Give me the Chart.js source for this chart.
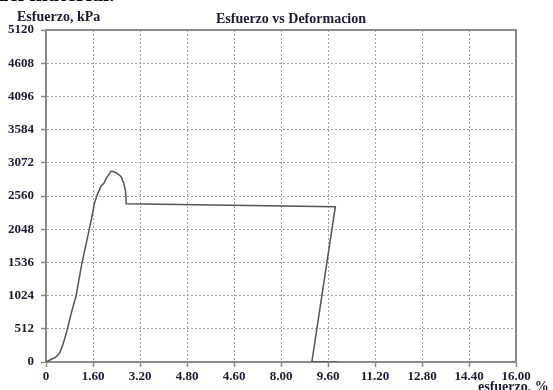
<!DOCTYPE html>
<html>
<head>
<meta charset="utf-8">
<script src="https://cdn.jsdelivr.net/npm/chart.js@4/dist/chart.umd.min.js"></script>
<style>
  html, body { margin: 0; padding: 0; background: #fff; overflow: hidden; }
  #wrap { position: relative; width: 553px; height: 390px; }
</style>
</head>
<body>
<div id="wrap"><canvas id="c" width="553" height="390"></canvas></div>
<script>
// Ensayo: esfuerzo (kPa) frente a deformación (%)
const strainPct = [0, 0.18, 0.32, 0.46, 0.57, 0.69, 0.86, 1.03, 1.20, 1.37, 1.54, 1.65, 1.76, 1.88, 1.97, 2.05, 2.22, 2.39, 2.56, 2.65, 2.71, 2.73, 9.85, 9.05, 9.91];
const stressKPa = [0, 42, 72, 134, 262, 442, 751, 1033, 1470, 1830, 2190, 2447, 2601, 2714, 2755, 2832, 2945, 2919, 2858, 2755, 2626, 2440, 2395, 0, 0];

const xTickValues = [0, 1.6, 3.2, 4.8, 6.4, 8.0, 9.6, 11.2, 12.8, 14.4, 16.0];
const xTickLabels = ['0', '1.60', '3.20', '4.80', '4.60', '8.00', '9.60', '11.20', '12.80', '14.40', '16.00'];
const yTickValues = [0, 512, 1024, 1536, 2048, 2560, 3072, 3584, 4096, 4608, 5120];

const chartTitle = 'Esfuerzo vs Deformacion';
const yAxisTitle = 'Esfuerzo, kPa';
const xAxisTitle = 'esfuerzo, %';
const headerText = 'del material.';

const points = strainPct.map((x, i) => ({ x, y: stressKPa[i] }));

const textColor = '#1a1a36';
const axisColor = '#8a8a8a';
const gridColor = '#a0a0a0';
const serif = '"Liberation Serif", "Times New Roman", serif';

// Frame, headings and axis captions drawn around the plot
const decorations = {
  id: 'decorations',
  afterDraw(chart) {
    const { ctx, chartArea: a } = chart;
    ctx.save();
    ctx.strokeStyle = axisColor;
    ctx.lineWidth = 2;
    ctx.beginPath();
    ctx.moveTo(a.left, a.top);
    ctx.lineTo(a.right, a.top);
    ctx.lineTo(a.right, a.bottom);
    ctx.stroke();

    ctx.fillStyle = '#000';
    ctx.font = 'bold 22px ' + serif;
    ctx.textBaseline = 'alphabetic';
    ctx.textAlign = 'left';
    ctx.fillText(headerText, -4, 1);

    ctx.fillStyle = textColor;
    ctx.font = 'bold 14px ' + serif;
    ctx.textBaseline = 'middle';
    ctx.fillText(yAxisTitle, 17, 17);
    ctx.fillText(xAxisTitle, 478, 387);
    ctx.textAlign = 'center';
    ctx.fillText(chartTitle, 291, 19);
    ctx.restore();
  }
};

new Chart(document.getElementById('c'), {
  type: 'line',
  data: {
    datasets: [{
      data: points,
      borderColor: '#555555',
      borderWidth: 1.5,
      pointRadius: 0,
      tension: 0,
      fill: false
    }]
  },
  options: {
    responsive: false,
    animation: false,
    layout: { padding: { top: 30, right: 37, left: 0, bottom: 0 } },
    plugins: { legend: { display: false }, tooltip: { enabled: false }, title: { display: false } },
    scales: {
      x: {
        type: 'linear',
        min: 0,
        max: 16,
        afterBuildTicks(scale) { scale.ticks = xTickValues.map(v => ({ value: v })); },
        afterFit(scale) { scale.height = 28; },
        ticks: {
          color: textColor,
          font: { family: serif, size: 13, weight: 'bold' },
          padding: 2,
          maxRotation: 0,
          autoSkip: false,
          callback(value) {
            const i = xTickValues.findIndex(v => Math.abs(v - value) < 1e-6);
            return i >= 0 ? xTickLabels[i] : '';
          }
        },
        grid: { color: gridColor, lineWidth: 1, tickLength: 5, tickColor: axisColor, tickWidth: 1.5 },
        border: { display: true, color: axisColor, width: 2, dash: [2, 2] }
      },
      y: {
        type: 'linear',
        min: 0,
        max: 5120,
        afterBuildTicks(scale) { scale.ticks = yTickValues.map(v => ({ value: v })); },
        afterFit(scale) { scale.width = 46; },
        ticks: {
          color: textColor,
          font: { family: serif, size: 13, weight: 'bold' },
          padding: 7,
          autoSkip: false,
          callback(value) { return String(value); }
        },
        grid: { color: gridColor, lineWidth: 1, tickLength: 5, tickColor: axisColor, tickWidth: 1.5 },
        border: { display: true, color: axisColor, width: 2, dash: [2, 2] }
      }
    }
  },
  plugins: [decorations]
});
</script>
</body>
</html>
